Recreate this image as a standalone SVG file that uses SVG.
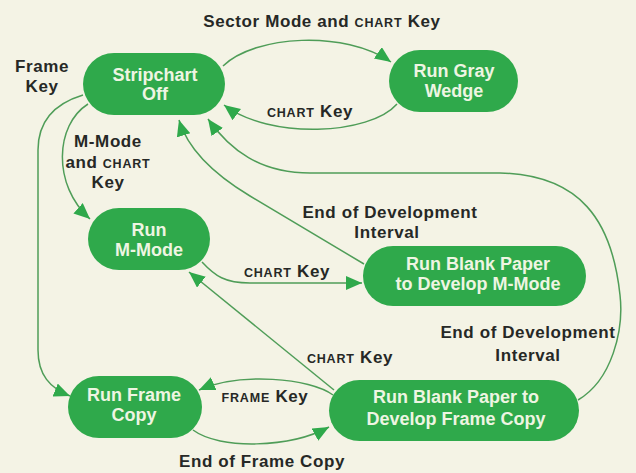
<svg xmlns="http://www.w3.org/2000/svg" width="636" height="473" viewBox="0 0 636 473">
  <defs>
    <style>
      .bg { fill: #f4f3e5; }
      .node rect { fill: #2fa94b; }
      .node text { font-family: "Liberation Sans", Arial, sans-serif; font-weight: bold; font-size: 18px; fill: #eef5e2; text-anchor: middle; }
      .lbl { font-family: "Liberation Sans", Arial, sans-serif; font-weight: bold; font-size: 17px; fill: #262826; text-anchor: middle; letter-spacing: 0.6px; }
      .sc { font-size: 12.5px; letter-spacing: 0.8px; }
      .edge { fill: none; stroke: #4f9d58; stroke-width: 1.5; marker-end: url(#arrow); }
    </style>
    <marker id="arrow" markerUnits="userSpaceOnUse" markerWidth="18" markerHeight="16" refX="16" refY="7" orient="auto">
      <path d="M0,0 L16,7 L0,14 z" fill="#2fa94b"/>
    </marker>
  </defs>

  <rect class="bg" x="0" y="0" width="636" height="473"/>

  <!-- state transitions -->
  <g id="connectors">
    <path class="edge" d="M223,66 C255,35 345,30 391,62"/>
    <path class="edge" d="M397,104 C370,135 270,140 224,105"/>
    <path class="edge" d="M578,400 C612,380 624,330 620,295 C612,220 580,175 500,173 L310,173 C260,173 230,150 208,119"/>
    <path class="edge" d="M364,264 L250,196 C215,175 188,150 179,120"/>
    <path class="edge" d="M88,104 C55,125 52,185 90,219"/>
    <path class="edge" d="M83,95 C50,105 38,125 38,150 L38,350 C38,375 50,388 70,396"/>
    <path class="edge" d="M202,262 C215,276 225,283 250,283 L362,283"/>
    <path class="edge" d="M334,390 L189,272"/>
    <path class="edge" d="M333,395 C310,378 240,372 199,390"/>
    <path class="edge" d="M193,430 C220,450 290,448 329,427"/>
  </g>

  <!-- transition labels -->
  <g id="labels">
    <text class="lbl" x="322" y="27">Sector Mode and <tspan class="sc">CHART</tspan> Key</text>
    <text class="lbl" x="42" y="72">Frame</text>
    <text class="lbl" x="42" y="92">Key</text>
    <text class="lbl" x="310" y="117"><tspan class="sc">CHART</tspan> Key</text>
    <text class="lbl" x="108" y="147">M-Mode</text>
    <text class="lbl" x="108" y="168">and <tspan class="sc">CHART</tspan></text>
    <text class="lbl" x="108" y="188">Key</text>
    <text class="lbl" x="390" y="218">End of Development</text>
    <text class="lbl" x="387" y="238">Interval</text>
    <text class="lbl" x="287" y="277"><tspan class="sc">CHART</tspan> Key</text>
    <text class="lbl" x="528" y="338">End of Development</text>
    <text class="lbl" x="528" y="361">Interval</text>
    <text class="lbl" x="350" y="363"><tspan class="sc">CHART</tspan> Key</text>
    <text class="lbl" x="265" y="402"><tspan class="sc">FRAME</tspan> Key</text>
    <text class="lbl" x="262" y="467">End of Frame Copy</text>
  </g>

  <!-- states -->
  <g id="stripchart-off" class="node">
    <rect x="83" y="53" width="142" height="62" rx="31"/>
    <text x="155" y="81">Stripchart</text>
    <text x="155" y="100">Off</text>
  </g>
  <g id="run-gray-wedge" class="node">
    <rect x="389" y="50" width="129" height="62" rx="31"/>
    <text x="454" y="77">Run Gray</text>
    <text x="454" y="97">Wedge</text>
  </g>
  <g id="run-m-mode" class="node">
    <rect x="88" y="208" width="122" height="62" rx="31"/>
    <text x="149" y="236">Run</text>
    <text x="149" y="256">M-Mode</text>
  </g>
  <g id="develop-m-mode" class="node">
    <rect x="363" y="246" width="223" height="60" rx="30"/>
    <text x="478" y="270">Run Blank Paper</text>
    <text x="478" y="290">to Develop M-Mode</text>
  </g>
  <g id="run-frame-copy" class="node">
    <rect x="68" y="376" width="134" height="62" rx="31"/>
    <text x="134" y="401">Run Frame</text>
    <text x="134" y="421">Copy</text>
  </g>
  <g id="develop-frame-copy" class="node">
    <rect x="329" y="380" width="250" height="61" rx="30.5"/>
    <text x="456" y="403">Run Blank Paper to</text>
    <text x="456" y="425">Develop Frame Copy</text>
  </g>
</svg>
